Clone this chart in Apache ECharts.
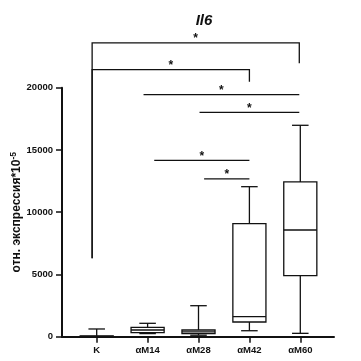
<!DOCTYPE html>
<html lang="ru">
<head>
    <meta charset="UTF-8">
    <title>Il6</title>
    <style>
        * { padding: 0; margin: 0; }
        body { background: #fff; }
    </style>
    <script type="text/javascript" src="https://cdn.jsdelivr.net/npm/echarts@6/dist/echarts.min.js"></script>
</head>
<body>
    <div id="main" style="width: 361px; height: 361px;"></div>
    <script type="text/javascript">
        // группы
        var categories = ['K', 'αM14', 'αM28', 'αM42', 'αM60'];
        // min, q1, median, q3, max
        var minVals = [0, 250, 120, 480, 270];
        var q1Vals = [10, 320, 240, 1180, 4900];
        var medVals = [30, 540, 380, 1610, 8570];
        var q3Vals = [60, 755, 540, 9080, 12430];
        var maxVals = [620, 1075, 2490, 12050, 16980];

        // значимость (* p<0.05): от группы, до группы, высота, концы ножек
        var sigFrom = [-0.09, -0.09, 0.92, 2.02, 1.13, 2.11];
        var sigTo = [3.98, 3.0, 3.98, 3.98, 3.0, 3.0];
        var sigLevel = [23600, 21450, 19440, 18020, 14170, 12670];
        var sigLeftEnd = [6300, 6300, 19440, 18020, 14170, 12670];
        var sigRightEnd = [21960, 20480, 19440, 18020, 14170, 12670];

        var yTicks = [0, 5000, 10000, 15000, 20000];

        var font = 'Liberation Sans, Arial, sans-serif';
        var myChart = echarts.init(document.getElementById('main'));

        var boxData = categories.map(function (c, i) {
            return [i, minVals[i], q1Vals[i], medVals[i], q3Vals[i], maxVals[i]];
        });
        var sigData = sigFrom.map(function (f, i) {
            return [f, sigTo[i], sigLevel[i], sigLeftEnd[i], sigRightEnd[i]];
        });

        var option = {
            animation: false,
            title: {
                text: 'Il6',
                left: 199,
                top: 8,
                textAlign: 'center',
                textStyle: { fontFamily: font, fontSize: 15, fontWeight: 'bold', fontStyle: 'italic', color: '#111' }
            },
            grid: [
                // боксы, категориальная ось
                { left: 71.25, right: 35.25, top: 87.7, bottom: 24.3, outerBoundsMode: 'none' },
                // оси и скобки
                { left: 62, right: 27, top: 87.7, bottom: 24.3, outerBoundsMode: 'none' }
            ],
            xAxis: [{
                type: 'category',
                gridIndex: 0,
                data: categories,
                axisLine: { show: false },
                axisTick: { show: true, alignWithLabel: true, length: 6, lineStyle: { color: '#111', width: 1.5 } },
                axisLabel: { margin: 9, fontFamily: font, fontSize: 9.5, fontWeight: 'bold', color: '#111' },
                splitLine: { show: false }
            }, {
                type: 'value',
                gridIndex: 1,
                min: -0.682,
                max: 4.662,
                axisLine: { show: true, onZero: false, lineStyle: { color: '#111', width: 2 } },
                axisTick: { show: false },
                axisLabel: { show: false },
                splitLine: { show: false }
            }],
            yAxis: [{
                type: 'value',
                gridIndex: 0,
                min: 0,
                max: 20000,
                show: false
            }, {
                type: 'value',
                gridIndex: 1,
                min: yTicks[0],
                max: yTicks[yTicks.length - 1],
                interval: 5000,
                name: '{a|отн. экспрессия*10}{b|-5}',
                nameLocation: 'middle',
                nameGap: 37,
                nameMoveOverlap: false,
                nameTextStyle: {
                    rich: {
                        a: { fontFamily: font, fontSize: 12, fontWeight: 'bold', color: '#111' },
                        b: { fontFamily: font, fontSize: 8.5, fontWeight: 'bold', color: '#111', verticalAlign: 'top', padding: [0, 0, 7, 0] }
                    }
                },
                axisLine: { show: true, onZero: false, lineStyle: { color: '#111', width: 2 } },
                axisTick: { show: true, length: 6, lineStyle: { color: '#111', width: 1.5 } },
                axisLabel: {
                    margin: 9,
                    fontFamily: font,
                    fontSize: 9.5,
                    fontWeight: 'bold',
                    color: '#111',
                    formatter: function (v) { return String(v); }
                },
                splitLine: { show: false }
            }],
            series: [{
                type: 'custom',
                name: 'box',
                xAxisIndex: 0,
                yAxisIndex: 0,
                data: boxData,
                renderItem: function (params, api) {
                    var i = api.value(0);
                    var band = api.size([1, 0])[0];
                    var hw = band * 0.325;
                    var cw = hw / 2;
                    var pMin = api.coord([i, api.value(1)]);
                    var pQ1 = api.coord([i, api.value(2)]);
                    var pMed = api.coord([i, api.value(3)]);
                    var pQ3 = api.coord([i, api.value(4)]);
                    var pMax = api.coord([i, api.value(5)]);
                    var x = pMed[0];
                    var st = { stroke: '#111', lineWidth: 1.3, fill: null };
                    return {
                        type: 'group',
                        children: [
                            { type: 'line', shape: { x1: x, y1: pMax[1], x2: x, y2: pQ3[1] }, style: st },
                            { type: 'line', shape: { x1: x, y1: pQ1[1], x2: x, y2: pMin[1] }, style: st },
                            { type: 'line', shape: { x1: x - cw, y1: pMax[1], x2: x + cw, y2: pMax[1] }, style: st },
                            { type: 'line', shape: { x1: x - cw, y1: pMin[1], x2: x + cw, y2: pMin[1] }, style: st },
                            {
                                type: 'rect',
                                shape: { x: x - hw, y: pQ3[1], width: hw * 2, height: pQ1[1] - pQ3[1] },
                                style: { stroke: '#111', lineWidth: 1.3, fill: '#fff' }
                            },
                            { type: 'line', shape: { x1: x - hw, y1: pMed[1], x2: x + hw, y2: pMed[1] }, style: st }
                        ]
                    };
                }
            }, {
                type: 'custom',
                name: 'sig',
                xAxisIndex: 1,
                yAxisIndex: 1,
                clip: false,
                data: sigData,
                renderItem: function (params, api) {
                    var a = api.coord([api.value(0), api.value(3)]);
                    var b = api.coord([api.value(0), api.value(2)]);
                    var c = api.coord([api.value(1), api.value(2)]);
                    var d = api.coord([api.value(1), api.value(4)]);
                    return {
                        type: 'group',
                        children: [{
                            type: 'polyline',
                            shape: { points: [a, b, c, d] },
                            style: { stroke: '#111', lineWidth: 1.3, fill: null }
                        }, {
                            type: 'text',
                            style: {
                                text: '*',
                                x: (b[0] + c[0]) / 2,
                                y: b[1] - 4,
                                textAlign: 'center',
                                textVerticalAlign: 'middle',
                                font: 'bold 12px ' + font,
                                fill: '#111'
                            }
                        }]
                    };
                }
            }]
        };

        myChart.setOption(option);
    </script>
</body>
</html>
